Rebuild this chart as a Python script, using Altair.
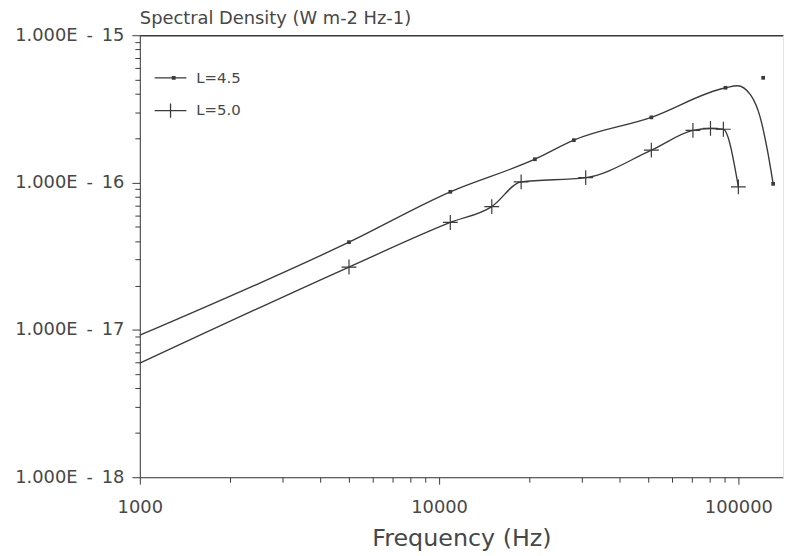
import altair as alt
import pandas as pd

# ---- data ----
# L=4.5 : plotted markers
l45_marker_freq = [5000, 10900, 20900, 28200, 51200, 90600, 121000, 130700]
l45_marker_psd = [3.94e-17, 8.65e-17, 1.44e-16, 1.94e-16, 2.77e-16, 4.40e-16, 5.14e-16, 9.8e-17]
# L=4.5 : drawn (fitted) curve
l45_curve_freq = [1000, 5000, 10900, 20900, 28200, 51200, 90600, 99300, 109700, 118300, 124800, 130700]
l45_curve_psd = [9.2e-18, 3.94e-17, 8.65e-17, 1.44e-16, 1.94e-16, 2.77e-16, 4.40e-16, 4.54e-16,
                 3.95e-16, 2.77e-16, 1.69e-16, 9.8e-17]
# L=5.0 : plotted markers
l50_marker_freq = [5000, 10900, 15000, 18800, 30900, 51200, 70500, 80700, 89100, 100000]
l50_marker_psd = [2.67e-17, 5.36e-17, 6.87e-17, 1.01e-16, 1.08e-16, 1.66e-16, 2.26e-16, 2.33e-16,
                  2.30e-16, 9.35e-17]
# L=5.0 : drawn curve
l50_curve_freq = [1000, 5000, 10900, 15000, 18800, 30900, 51200, 70500, 80700, 89100, 100000]
l50_curve_psd = [5.94e-18, 2.67e-17, 5.36e-17, 6.87e-17, 1.01e-16, 1.08e-16, 1.66e-16, 2.26e-16,
                 2.33e-16, 2.30e-16, 9.35e-17]

series_names = ["L=4.5", "L=5.0"]

x_ticks = [1000, 2000, 3000, 4000, 5000, 6000, 7000, 8000, 9000,
           10000, 20000, 30000, 40000, 50000, 60000, 70000, 80000, 90000, 100000]
y_ticks = [float(f"{m}e{e}") for e in (-18, -17, -16) for m in range(1, 10)] + [1e-15]

x_domain = [1000, 141000]
y_domain = [1e-18, 1e-15]

# ---- tables ----
curves = pd.DataFrame({
    "freq": l45_curve_freq + l50_curve_freq,
    "psd": l45_curve_psd + l50_curve_psd,
    "series": [series_names[0]] * len(l45_curve_freq) + [series_names[1]] * len(l50_curve_freq),
})
m45 = pd.DataFrame({"freq": l45_marker_freq, "psd": l45_marker_psd})
m50 = pd.DataFrame({"freq": l50_marker_freq, "psd": l50_marker_psd})

FONT = "DejaVu Sans"
INK = "#3a3a3a"
TXT = "#474747"

is_decade = "abs(log(datum.value)/LN10 - round(log(datum.value)/LN10)) < 0.01"

xs = alt.Scale(type="log", domain=x_domain, nice=False)
ys = alt.Scale(type="log", domain=y_domain, nice=False)

x_axis = alt.Axis(
    values=x_ticks,
    labelExpr=f"{is_decade} ? format(datum.value, 'd') : ''",
    tickSize={"condition": {"test": is_decade, "value": 7}, "value": 5},
    tickColor=INK, domainColor=INK, tickWidth=1,
    labelFont=FONT, labelFontSize=18, labelColor=TXT, labelPadding=15,
    labelFlush=False, labelOverlap=False, labelBound=False,
    title="Frequency (Hz)", titleFont=FONT, titleFontSize=24, titleFontWeight="normal",
    titleColor=TXT, titlePadding=10, grid=False,
)
y_axis = alt.Axis(
    values=y_ticks,
    labelExpr=f"{is_decade} ? '1.000E\u2002-\u2002' + (-round(log(datum.value)/LN10)) : ''",
    tickSize={"condition": {"test": is_decade, "value": 8}, "value": 5},
    tickColor=INK, domainColor=INK, tickWidth=1,
    labelFont=FONT, labelFontSize=18, labelColor=TXT, labelPadding=8,
    labelFlush=False, labelOverlap=False, labelBound=False,
    title=None, grid=False,
)

lines = alt.Chart(curves).mark_line(interpolate="monotone", strokeWidth=1.4, color=INK).encode(
    x=alt.X("freq:Q", scale=xs, axis=x_axis),
    y=alt.Y("psd:Q", scale=ys, axis=y_axis),
    detail="series:N",
)

dots = alt.Chart(m45).mark_point(shape="square", filled=True, size=14, color=INK, opacity=1).encode(
    x=alt.X("freq:Q", scale=xs, axis=alt.Axis(orient="top", labels=False, ticks=False, title=None,
                                               grid=False, domainColor=INK, domainWidth=1.5,
                                               minExtent=0, maxExtent=0)),
    y=alt.Y("psd:Q", scale=ys, axis=alt.Axis(orient="right", labels=False, ticks=False, title=None,
                                              grid=False, domainColor="#e4e4e4",
                                              minExtent=0, maxExtent=0)),
)

pluses = alt.Chart(m50).mark_point(shape="M-1,0H1M0,-1V1", filled=False, size=225,
                                   strokeWidth=1.2, color=INK, opacity=1).encode(
    x=alt.X("freq:Q", scale=xs, axis=None),
    y=alt.Y("psd:Q", scale=ys, axis=None),
)

legend_layer = alt.Chart(curves).transform_filter("false").mark_point(
    filled=False, strokeWidth=1.3, color=INK, opacity=1
).encode(
    x=alt.X("freq:Q", scale=xs, axis=None),
    y=alt.Y("psd:Q", scale=ys, axis=None),
    shape=alt.Shape(
        "series:N",
        scale=alt.Scale(domain=series_names,
                        range=["M-1,0H1M0.12,-0.08H0.28V0.08H0.12Z", "M-1,0H1M0,-0.45V0.45"]),
        legend=alt.Legend(
            title=None, orient="none", legendX=14, legendY=26, padding=0,
            symbolSize=1024, symbolStrokeWidth=1.3, symbolStrokeColor=INK, symbolFillColor=INK,
            labelFont=FONT, labelFontSize=15, labelColor=TXT, labelOffset=9, rowPadding=8,
        ),
    ),
)

chart = alt.layer(lines, dots, pluses, legend_layer).resolve_axis(
    x="independent", y="independent"
).properties(
    width=649, height=446,
    autosize="none",
    padding={"left": 133, "top": 25, "right": 2, "bottom": 76},
    title=alt.TitleParams("Spectral Density (W m-2 Hz-1)", anchor="start", frame="group",
                          font=FONT, fontSize=18, fontWeight="normal", color=TXT, offset=6, dy=8),
).configure_view(stroke=None).configure(background="white")

chart.save("out.html", embed_options={"renderer": "svg", "actions": False})
